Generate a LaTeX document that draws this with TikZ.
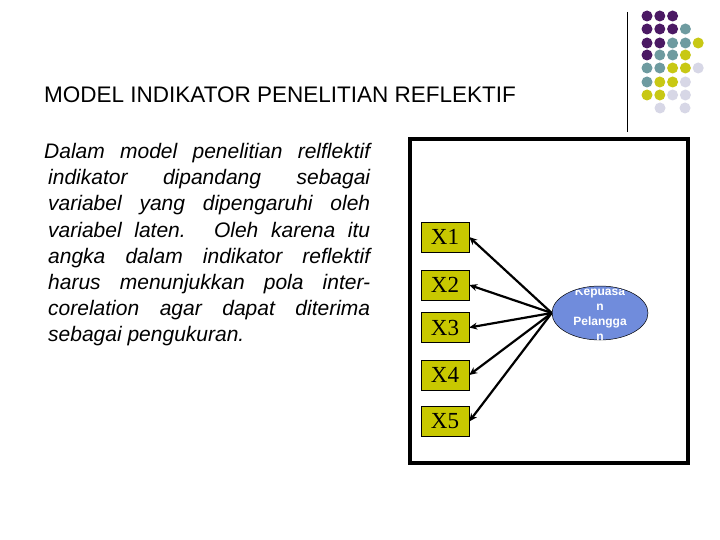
\documentclass[tikz,border=0pt]{standalone}
\usepackage{fontspec}
\setmainfont{Liberation Sans}
\newfontfamily\serf{Liberation Serif}
\usetikzlibrary{arrows.meta,shapes.geometric}
\definecolor{dP}{RGB}{75,25,100}
\definecolor{dT}{RGB}{110,155,160}
\definecolor{dY}{RGB}{200,200,20}
\definecolor{dL}{RGB}{215,215,230}
\definecolor{olive}{RGB}{200,200,0}
\definecolor{ell}{RGB}{112,140,220}
\begin{document}
\begin{tikzpicture}[x=1pt,y=-1pt,
  xbox/.style={draw=black,fill=olive,minimum width=48pt,minimum height=30pt,inner sep=0pt,font=\serf\fontsize{23}{23}\selectfont},
  arr/.style={-{Stealth[length=8pt,width=7pt]},line width=2.2pt},
  dot/.style={circle,inner sep=0pt,minimum size=11pt},
  ln/.style={anchor=base west,inner sep=0pt,font=\itshape\fontsize{21}{21}\selectfont}]
\useasboundingbox (0,0) rectangle (720,540);
\fill[white] (0,0) rectangle (720,540);
% dots
\foreach \r/\row in {16/{P,P,P},29/{P,P,P,T},43/{P,P,T,T,Y},55/{P,T,T,Y},68/{T,T,Y,Y,L},82/{T,Y,Y,L},95/{Y,Y,L,L}}{
  \foreach \c [count=\i] in \row {\node[dot,fill=d\c] (d\r\i) at ({647+(\i-1)*12.8},\r) {};}}
\node[dot,fill=dL] (e1) at (660,108) {};
\node[dot,fill=dL] (e2) at (685,108) {};
\draw[line width=0.8pt] (627,12) -- (627,132);
% title
\node[anchor=base west,inner sep=0pt,font=\fontsize{22.5}{22.5}\selectfont] (title) at (44,103) {MODEL INDIKATOR PENELITIAN REFLEKTIF};
% body
\node[ln] (l1) at (44,159) {\makebox[326pt][s]{Dalam model penelitian relflektif}};
\node[ln] (l2) at (48,185) {\makebox[322pt][s]{indikator dipandang sebagai}};
\node[ln] (l3) at (48,211) {\makebox[322pt][s]{variabel yang dipengaruhi oleh}};
\node[ln] (l4) at (48,237) {\makebox[322pt][s]{variabel laten.  Oleh karena itu}};
\node[ln] (l5) at (48,263) {\makebox[322pt][s]{angka dalam indikator reflektif}};
\node[ln] (l6) at (48,289) {\makebox[322pt][s]{harus menunjukkan pola inter-}};
\node[ln] (l7) at (48,315) {\makebox[322pt][s]{corelation agar dapat diterima}};
\node[ln] (l8) at (48,341) {sebagai pengukuran.};
% frame
\node[draw=black,line width=4.5pt,minimum width=278pt,minimum height=324pt,inner sep=0pt] (frame) at (549,301) {};
% X boxes
\node[xbox] (x1) at (445,237) {X1};
\node[xbox] (x2) at (445,285) {X2};
\node[xbox] (x3) at (445,327.5) {X3};
\node[xbox] (x4) at (445,375) {X4};
\node[xbox] (x5) at (445,421.5) {X5};
% ellipse
\node[ellipse,draw=black,line width=0.5pt,fill=ell,minimum width=96pt,minimum height=54pt,inner sep=0pt] (lv) at (600,313) {};
\begin{scope}
\clip (600,313) ellipse (47pt and 26.5pt);
\node[text=white,align=center,font=\bfseries\fontsize{12}{15}\selectfont,inner sep=0pt] (lvt) at (600,314) {Kepuasa\\n\\Pelangga\\n};
\end{scope}
\foreach \k in {1,...,5} \draw[arr] (lv.west) -- (x\k.east);
\end{tikzpicture}
\end{document}
